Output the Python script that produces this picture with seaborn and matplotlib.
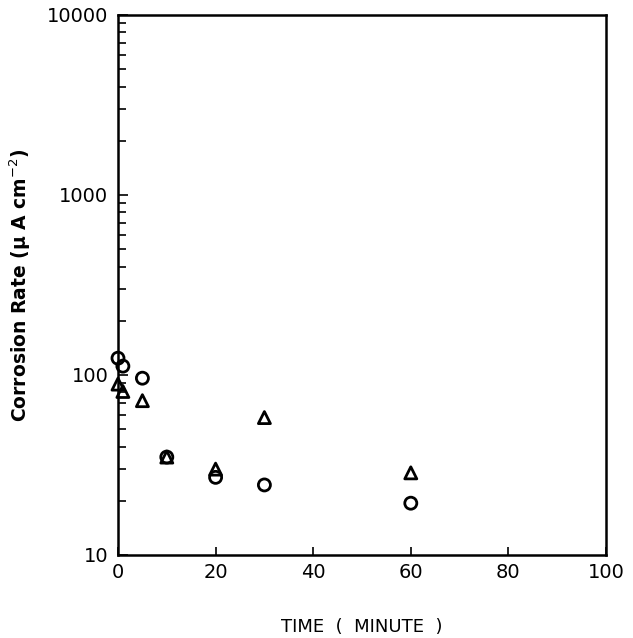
import matplotlib
matplotlib.use("Agg")
import matplotlib.pyplot as plt
import matplotlib.ticker as mticker
import numpy as np
import pandas as pd
import seaborn as sns

time_circle = [0, 1, 5, 10, 20, 30, 60]
rate_circle = [124, 112, 96, 35, 27, 24.5, 19.4]
time_triangle = [0, 1, 5, 10, 20, 30, 60]
rate_triangle = [89, 81, 72, 35, 30, 58, 28.6]

df = pd.DataFrame({
    "time": time_circle + time_triangle,
    "rate": rate_circle + rate_triangle,
    "series": ["circle"] * len(time_circle) + ["triangle"] * len(time_triangle),
})

sns.set_style("white")
plt.rcParams["font.family"] = ["DejaVu Sans"]
plt.rcParams["text.color"] = "black"
plt.rcParams["axes.labelcolor"] = "black"

fig = plt.figure(figsize=(6.33, 6.38), dpi=100)
ax = fig.add_axes([118 / 633, 1 - 555 / 638, (606 - 118) / 633, (555 - 15) / 638])

sns.scatterplot(data=df, x="time", y="rate", style="series",
                markers={"circle": "o", "triangle": "^"},
                s=75, facecolor="none", edgecolor="black", linewidth=2.0,
                legend=False, ax=ax, clip_on=False, zorder=3)

ax.set_yscale("log")
ax.set_xlim(0, 100)
ax.set_ylim(10, 10000)
ax.set_xticks([0, 20, 40, 60, 80, 100])
ax.yaxis.set_major_locator(mticker.FixedLocator([10, 100, 1000, 10000]))
ax.yaxis.set_major_formatter(mticker.FixedFormatter(["10", "100", "1000", "10000"]))
ax.yaxis.set_minor_locator(mticker.LogLocator(base=10, subs=np.arange(2, 10)))
ax.yaxis.set_minor_formatter(mticker.NullFormatter())

ax.tick_params(axis="both", which="both", direction="in", color="black",
               labelcolor="black", left=True, bottom=True, top=False, right=False,
               labelsize=14, width=1.2)
ax.tick_params(axis="y", which="major", length=7, pad=7)
ax.tick_params(axis="y", which="minor", length=6)
ax.tick_params(axis="x", which="major", length=6, pad=6)

for sp in ax.spines.values():
    sp.set_color("black")
    sp.set_linewidth(1.8)

ax.set_xlabel("TIME  (  MINUTE  )", fontsize=13, labelpad=26)
ax.set_ylabel("Corrosion Rate (\u03bc A cm$^{-2}$)", fontsize=13.5,
              fontweight="bold", labelpad=10)

fig.savefig("out.png", dpi=100, facecolor="white")
